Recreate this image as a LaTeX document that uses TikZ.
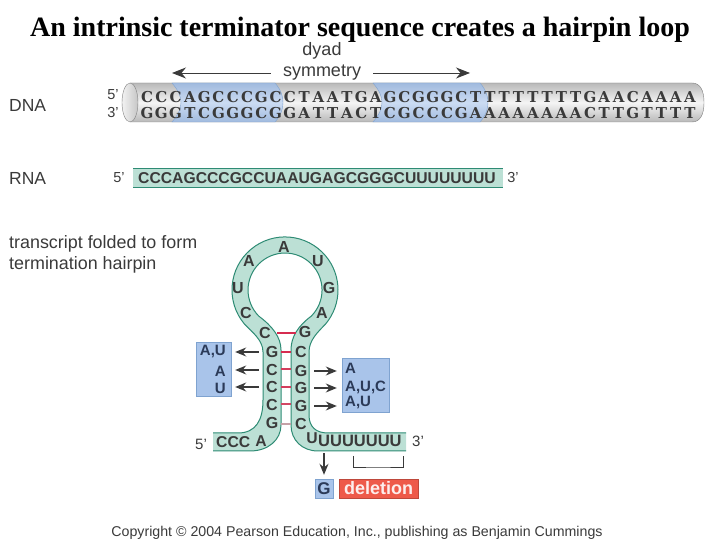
\documentclass[tikz,border=0pt]{standalone}
\usepackage{fontspec}
\setmainfont{Liberation Sans}
\newfontfamily\titlefont{Liberation Serif}
\newfontfamily\slabfont{DejaVu Serif}
\usetikzlibrary{arrows.meta}

\definecolor{inktext}{HTML}{3A3A3A}
\definecolor{stemfill}{HTML}{BCE0D5}
\definecolor{stemedge}{HTML}{2E8B74}
\definecolor{pairred}{HTML}{D62C50}
\definecolor{mutblue}{HTML}{A9C4EA}
\definecolor{mutedge}{HTML}{7FA3D0}
\definecolor{mutink}{HTML}{2B3A58}
\definecolor{delred}{HTML}{EE5A4A}

\newcommand{\stemupper}{(213,107) -- (238,107) .. controls (256,107) and (263,120) .. (263,140) -- (263,188) .. controls (263,200) and (252,208) .. (244.4,216) arc (220:-40:53) .. controls (318,208) and (309,200) .. (309,188) -- (309,125) .. controls (309,113) and (316,107) .. (328,107) -- (406,107)}
\newcommand{\stemlower}{(406,89) -- (318,89) .. controls (302,89) and (291,100) .. (291,115) -- (291,190) .. controls (291,203) and (298,214) .. (311.2,223.8) arc (-45:225:37) .. controls (272,214) and (281,203) .. (281,190) -- (281,115) .. controls (281,100) and (268,89) .. (250,89) -- (213,89)}

\tikzset{
	label/.style = {inner sep = 0, text = inktext, font = \fontsize{17.5}{17.5}\selectfont},
	prime/.style = {inner sep = 0, text = inktext, font = \fontsize{14.5}{14.5}\selectfont},
	dnabase/.style = {inner sep = 0, text = inktext, font = \slabfont\bfseries\fontsize{15}{15}\selectfont},
	rnabase/.style = {inner sep = 0, text = inktext, font = \bfseries\fontsize{15.7}{15.7}\selectfont},
	loopbase/.style = {inner sep = 0, text = inktext, font = \bfseries\fontsize{16}{16}\selectfont},
	mutbox/.style = {draw = mutedge, fill = mutblue},
	mutbase/.style = {inner sep = 0, text = mutink, font = \bfseries\fontsize{15}{15}\selectfont},
	mutarrow/.style = {-{Stealth[length = 11pt, width = 9pt]}, inktext, line width = 1.3pt},
	symarrow/.style = {-{Stealth[length = 14pt, width = 11pt]}, inktext, line width = 0.9pt},
}

\begin{document}
\begin{tikzpicture}[x = 1pt, y = 1pt]
	\useasboundingbox (0,0) rectangle (720,540);
	\clip (0,0) rectangle (720,540);

	\node (title) [inner sep = 0, font = \titlefont\bfseries\fontsize{28}{28}\selectfont] at (360,510) {An intrinsic terminator sequence creates a hairpin loop};

	% dna cylinder
	\shade [top color = gray!55, bottom color = gray!55, middle color = gray!8, draw = gray] (130,457) -- (692,457) .. controls (700,457) and (704,450) .. (704,437.5) .. controls (704,425) and (700,418) .. (692,418) -- (130,418) -- cycle;
	\foreach \bx/\bw in {172/103,373/107}
	{
		\shade [top color = mutblue!95!black, bottom color = mutblue!95!black, middle color = mutblue!60, draw = mutedge] (\bx,457) -- (\bx+\bw,457) .. controls (\bx+\bw+6,450) and (\bx+\bw+8,444) .. (\bx+\bw+8,437.5) .. controls (\bx+\bw+8,431) and (\bx+\bw+6,425) .. (\bx+\bw,418) -- (\bx,418) .. controls (\bx+6,425) and (\bx+9,431) .. (\bx+9,437.5) .. controls (\bx+9,444) and (\bx+6,450) .. (\bx,457) -- cycle;
	}
	\shade [left color = gray!10, right color = gray!45, draw = gray] (130,437.5) ellipse (8 and 19.5);

	\foreach \base [count = \i from 0] in {C,C,C,A,G,C,C,C,G,C,C,T,A,A,T,G,A,G,C,G,G,G,C,T,T,T,T,T,T,T,T,G,A,A,C,A,A,A,A}
	{
		\node (top\i) [dnabase] at (147+14.29*\i,443) {\base};
	}
	\foreach \base [count = \i from 0] in {G,G,G,T,C,G,G,G,C,G,G,A,T,T,A,C,T,C,G,C,C,C,G,A,A,A,A,A,A,A,A,C,T,T,G,T,T,T,T}
	{
		\node (bottom\i) [dnabase] at (147+14.29*\i,427) {\base};
	}

	\node (dnalabel) [label, anchor = west] at (9,435) {DNA};
	\node (dnafive) [prime] at (113,445) {5'};
	\node (dnathree) [prime] at (113,427) {3'};

	% dyad symmetry
	\node (dyad) [inner sep = 0, text = inktext, font = \fontsize{18}{18}\selectfont] at (322,489) {dyad};
	\node (symmetry) [inner sep = 0, text = inktext, font = \fontsize{18}{18}\selectfont] at (322,467) {symmetry};
	\coordinate (symleft) at (172,467);
	\coordinate (symright) at (470,467);
	\draw [symarrow] (symmetry.west) ++(-12,0) -- (symleft);
	\draw [symarrow] (symmetry.east) ++(12,0) -- (symright);

	% rna
	\fill [stemfill] (133,353) rectangle (503,372);
	\draw [stemedge] (133,372) -- (503,372);
	\draw [stemedge] (133,353) -- (503,353);
	\node (rnaseq) [rnabase, anchor = west] at (138,362) {CCCAGCCCGCCUAAUGAGCGGGCUUUUUUUU};
	\node (rnalabel) [label, anchor = west] at (9,362) {RNA};
	\node (rnafive) [prime] at (119,362) {5'};
	\node (rnathree) [prime] at (513,362) {3'};

	\node (foldone) [inner sep = 0, text = inktext, font = \fontsize{17.9}{17.9}\selectfont, anchor = west] at (9,296) {transcript folded to form};
	\node (foldtwo) [inner sep = 0, text = inktext, font = \fontsize{17.9}{17.9}\selectfont, anchor = west] at (9,275) {termination hairpin};

	% hairpin
	\fill [stemfill] \stemupper -- \stemlower -- cycle;
	\draw [stemedge, line width = 1pt] \stemupper;
	\draw [stemedge, line width = 1pt] \stemlower;

	\foreach \y/\tint in {188/100,171/90,153/90,136/85,116/35}
	{
		\draw [pairred!\tint!stemfill, line width = 1.3pt] (281,\y) -- (291,\y);
	}
	\draw [pairred, line width = 1.2pt] (277,207) -- (296,207);

	\foreach \x/\y/\base in {284/293/A,249/279/A,318/279/U,238/252/U,329/252/G,246/227/C,322/227/A,265/207/C,305/208/G}
	{
		\node [loopbase] at (\x,\y) {\base};
	}
	\foreach \name/\y/\base in {a/188/G,b/170/C,c/153/C,d/135/C,e/117/G}
	{
		\node (left\name) [loopbase] at (272,\y) {\base};
	}
	\foreach \name/\y/\base in {a/188/C,b/169/G,c/152/G,d/134/G,e/116/C}
	{
		\node (right\name) [loopbase] at (301,\y) {\base};
	}
	\node (tailfive) [rnabase, anchor = west] at (216,98) {CCC};
	\node (tailA) [rnabase] at (261,99) {A};
	\node (tailU) [rnabase] at (312,102) {U};
	\node (tailUs) [rnabase, anchor = west, font = \bfseries\fontsize{16.5}{16.5}\selectfont] at (318,99) {UUUUUUU};
	\node (hairfive) [inner sep = 0, text = inktext, font = \fontsize{15}{15}\selectfont] at (201,96) {5'};
	\node (hairthree) [inner sep = 0, text = inktext, font = \fontsize{15}{15}\selectfont] at (418,99) {3'};

	% mutations
	\node (boxleft) [mutbox, minimum width = 35pt, minimum height = 54pt, inner sep = 0] at (213.5,171) {};
	\node (boxright) [mutbox, minimum width = 47pt, minimum height = 54pt, inner sep = 0] at (365.5,155) {};
	\node (leftone) [mutbase, anchor = east] at (226,188) {A,U};
	\node (lefttwo) [mutbase, anchor = east] at (226,169) {A};
	\node (leftthree) [mutbase, anchor = east] at (226,152) {U};
	\node (rightone) [mutbase, anchor = west] at (345,172) {A};
	\node (righttwo) [mutbase, anchor = west] at (345,153) {A,U,C};
	\node (rightthree) [mutbase, anchor = west] at (345,137) {A,U};

	\foreach \from in {lefta,leftb,leftc}
	{
		\draw [mutarrow, shorten < = 7pt, shorten > = 4pt] (\from.west) -- (\from.west -| boxleft.east);
	}
	\foreach \from in {rightb,rightc,rightd}
	{
		\draw [mutarrow, shorten < = 7pt, shorten > = 5pt] (\from.east) -- (\from.east -| boxright.west);
	}

	\node (gbox) [mutbox, minimum width = 18pt, minimum height = 19pt, inner sep = 0, text = mutink, font = \bfseries\fontsize{17}{17}\selectfont] at (324,51.5) {G};
	\node (delbox) [fill = delred, draw = delred!80!black, minimum width = 79pt, minimum height = 19pt, inner sep = 0, text = white!90!delred, font = \bfseries\fontsize{18}{18}\selectfont] at (378.5,51.5) {deletion};
	\coordinate (gstart) at (324,87);
	\draw [mutarrow] (gstart) -- ([yshift = 4pt]gbox.north);
	\coordinate (brackettl) at (353,84);
	\coordinate (brackettr) at (403,84);
	\draw [inktext] (brackettl) |- (378,73) -| (brackettr);

	\node (copyright) [inner sep = 0, text = inktext, font = \fontsize{14.2}{14.2}\selectfont] at (357,7) {Copyright © 2004 Pearson Education, Inc., publishing as Benjamin Cummings};
\end{tikzpicture}
\end{document}
